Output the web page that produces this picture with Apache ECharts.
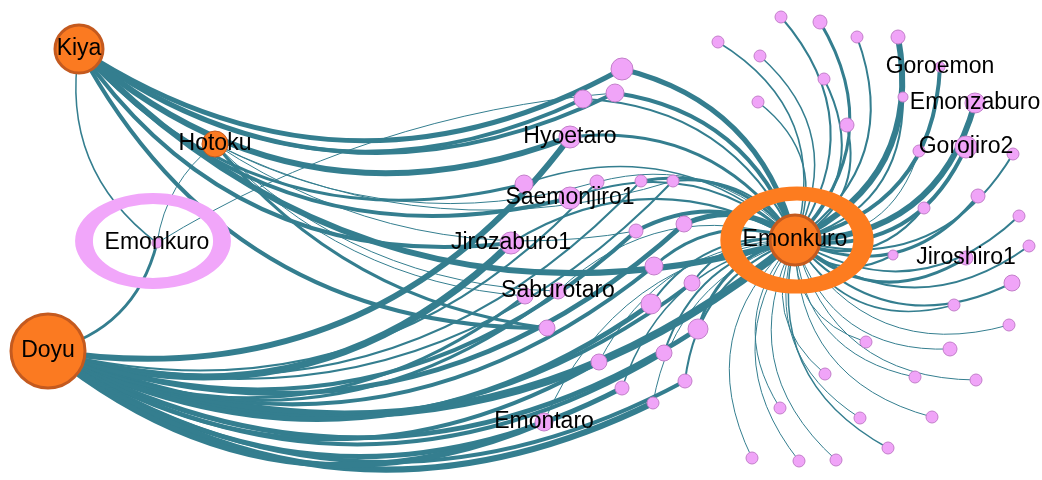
<!DOCTYPE html>
<html><head><meta charset="utf-8">
<script src="https://cdn.jsdelivr.net/npm/echarts@6/dist/echarts.min.js"></script>
<style>html,body{margin:0;padding:0;background:#fff}#c{width:1042px;height:480px}</style>
</head><body><div id="c"></div>
<script>
// ---- data ----
const nodeLabels = ['Kiya','Hotoku','Doyu','Emonkuro','Emonkuro',
 '','','','Hyoetaro','','','Saemonjiro1','','','','','Jirozaburo1','','Saburotaro','','','','','','','','','','','Emontaro',
 '','','','','','','','','','Goroemon','','Emonzaburo','Gorojiro2','','','','','','','Jiroshiro1','','','','','','','','','','','','','','','',''];
const nodeKind = [1,1,1,0,1].concat(new Array(61).fill(0)); // 1 = orange, 0 = pink
const nodeX = [79,215,48,157,795,
 622,583,615,570,524,597,570,641,673,636,684,511,525,558,654,692,651,547,698,599,664,622,685,653,544,
 781,820,718,857,898,760,824,758,847,940,903,975,966,919,1013,978,924,1019,893,966,1029,1012,954,1009,866,950,976,915,825,932,860,780,888,752,799,836];
const nodeY = [49,144,351,243,240,
 69,99,93,137,184,182,198,181,181,231,224,243,296,291,266,283,304,328,329,362,353,388,381,403,422,
 17,22,42,37,37,56,79,102,125,67,97,103,147,151,154,196,208,216,255,258,246,283,305,325,342,349,380,377,374,417,418,408,448,458,461,460];
const nodeWeight = [24,13,37,5,25,
 11,9,9,11,9,7,11,6,6,7,8,11,8,8,9,8,10,8,10,8,8,7,7,6,9,
 6,7,6,6,7,6,6,6,7,5,5,10,11,6,6,7,6,6,5,7,6,8,6,6,6,7,6,6,6,6,6,6,6,6,6,6];
// links: [source, target, weight]
const linkList = [
 // Kiya
 [0,5,5],[0,6,4],[0,7,4],[0,8,6],[0,9,3],[0,11,4],[0,16,4],[0,22,4],[0,4,6],[0,3,1.5],
 // Hotoku
 [1,3,1],[1,22,3],[1,17,1],[1,18,1],[1,14,1],[1,13,1],[1,10,1],
 // left Emonkuro
 [3,7,1],
 // Doyu
 [2,3,3],[2,4,8],[2,8,6],[2,16,7],[2,14,4],[2,15,5],[2,19,4],[2,20,4],[2,21,5],[2,23,5],[2,24,4],
 [2,25,4],[2,26,5],[2,27,4],[2,28,6],[2,29,6],[2,17,3],[2,18,3],[2,12,2],[2,13,2],[2,10,2],
 // center Emonkuro to middle nodes
 [4,5,5],[4,6,2],[4,7,4],[4,8,3],[4,9,1.5],[4,10,1],[4,11,2],[4,12,3],[4,13,2],[4,14,4],[4,15,5],[4,16,2],
 [4,19,3],[4,20,2],[4,21,2],[4,23,3],[4,24,1],[4,25,2],[4,26,1.5],[4,27,2],[4,28,1],[4,29,1],[4,18,1],
 // center Emonkuro fan
 [4,30,2],[4,31,3],[4,32,1.5],[4,33,2],[4,34,6],[4,35,1.5],[4,36,2],[4,37,1.5],[4,38,2],[4,39,4],[4,40,2],
 [4,41,6],[4,42,4],[4,43,1],[4,44,2],[4,45,3],[4,46,2],[4,47,2],[4,48,2],[4,49,3],[4,50,2],[4,51,2],
 [4,52,1.5],[4,53,1],[4,54,1],[4,55,1],[4,56,1],[4,57,1],[4,58,1],[4,59,1],[4,60,1],[4,61,1],[4,62,1.5],
 [4,63,1],[4,64,1],[4,65,1]
];
// highlight rings around the two Emonkuro nodes
const ringCenters = [[797,240],[153,241]];

// ---- styling ----
const TEAL = '#347e8f';
const curvBySource = {0: -0.3, 2: -0.3, 4: -0.3, 1: -0.2, 3: 0.12};

const nodes = nodeX.map((x, i) => {
  const orange = nodeKind[i] === 1;
  return {
    id: 'n' + i,
    name: nodeLabels[i],
    value: [x, nodeY[i]],
    symbolSize: nodeWeight[i] * 2,
    itemStyle: orange
      ? {color: '#fb7a21', borderColor: '#c45a1f', borderWidth: nodeWeight[i] > 20 ? 3 : 1}
      : {color: '#f0a4f8', borderColor: '#c27ec9', borderWidth: 1},
    label: {show: nodeLabels[i] !== ''}
  };
});
const links = linkList.map(l => {
  let c = curvBySource[l[0]] ?? -0.25;
  if (l[0] === 4 && l[1] >= 30) c = -0.38;
  return {source: l[0], target: l[1], lineStyle: {width: l[2], curveness: c}};
});

const chart = echarts.init(document.getElementById('c'), null, {renderer: 'canvas'});
chart.setOption({
  animation: false,
  grid: {left: 0, right: 0, top: 0, bottom: 0},
  xAxis: {type: 'value', min: 0, max: 1042, show: false},
  yAxis: {type: 'value', min: 0, max: 480, inverse: true, show: false},
  series: [
    {
      type: 'graph',
      coordinateSystem: 'cartesian2d',
      z: 2,
      silent: true,
      data: nodes,
      links: links,
      lineStyle: {color: TEAL, opacity: 1},
      label: {position: 'inside', color: '#000', fontSize: 23, fontFamily: 'Liberation Sans, Arial, sans-serif'},
      emphasis: {disabled: true}
    },
    {
      type: 'scatter',
      z: 3,
      silent: true,
      symbol: 'circle',
      data: [
        {value: ringCenters[0], symbolSize: [133, 93], itemStyle: {opacity: 1, color: 'rgba(0,0,0,0)', borderColor: '#fd7c1f', borderWidth: 17}},
        {value: ringCenters[1], symbolSize: [138, 85], itemStyle: {opacity: 1, color: 'rgba(0,0,0,0)', borderColor: '#f1a6fa', borderWidth: 14}}
      ]
    }
  ]
});
</script></body></html>
